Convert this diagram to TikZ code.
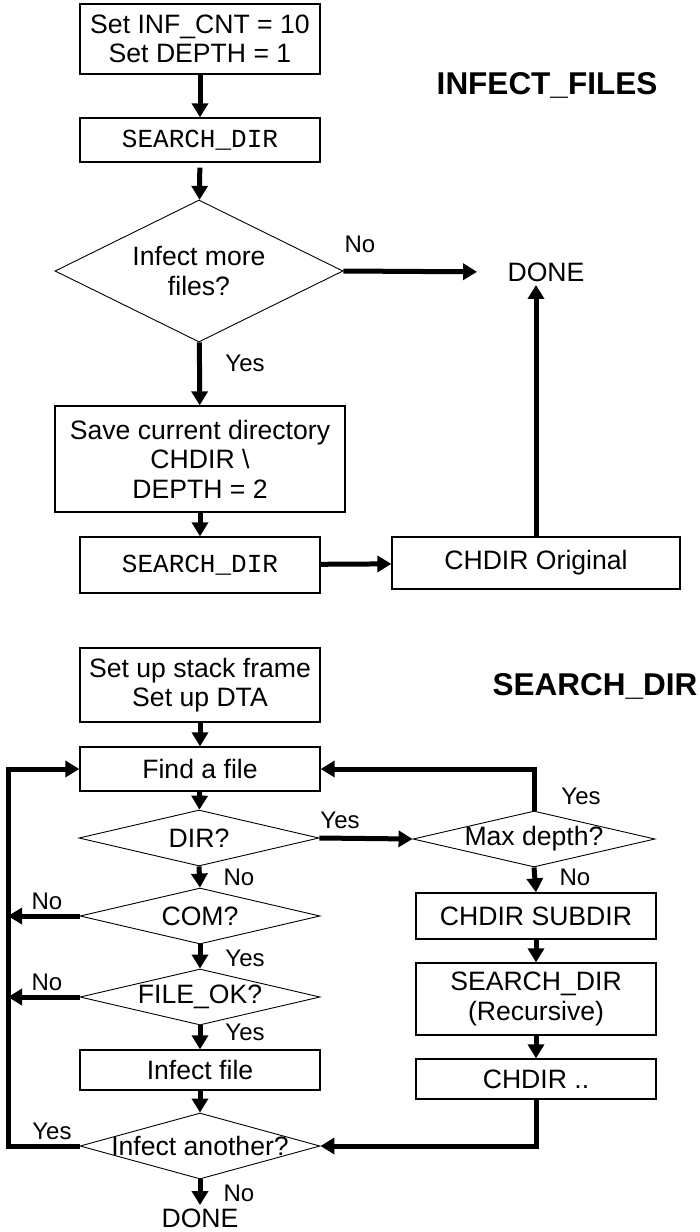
\documentclass[tikz,border=0pt]{standalone}
\usepackage{fontspec}
\setmainfont{Liberation Sans}
\setmonofont{Liberation Mono}
\usepackage{tikz}
\usetikzlibrary{arrows.meta,shapes.geometric,positioning}
\newcommand{\mainsz}{\fontsize{26.6}{29.5}\selectfont}
\newcommand{\lblsz}{\fontsize{24}{26}\selectfont}

\tikzset{
  box/.style={draw, line width=1.3pt, minimum width=240pt, minimum height=44pt,
    inner sep=0pt, align=center, font=\mainsz},
  codebox/.style={box, font=\fontsize{26}{29}\selectfont\ttfamily},
  dec/.style={diamond, draw, line width=0.9pt, inner sep=0pt,
    minimum width=240pt, minimum height=56pt},
  txt/.style={font=\mainsz, align=center},
  lbl/.style={font=\lblsz},
  ttl/.style={font=\fontsize{31.5}{34}\selectfont\bfseries},
  flow/.style={line width=5pt, -{Triangle[length=14pt,width=16pt]}}
}

\begin{document}
\begin{tikzpicture}[x=1pt, y=-1pt]
  \useasboundingbox (0,0) rectangle (700,1232);

  % INFECT_FILES
  \node[ttl] (title1) at (547,85) {INFECT\_FILES};
  \node[box, minimum height=70pt] (init) at (200,39)
    {Set INF\_CNT = 10\\Set DEPTH = 1};
  \node[codebox] (sd1) at (200,140) {SEARCH\_DIR};
  \node[dec, minimum width=288pt, minimum height=142pt,
    label={[txt]center:{Infect more\\files?}}] (more) at (199,271) {};
  \node[txt] (done1) at (546,272) {DONE};
  \node[box, minimum width=290pt, minimum height=106pt] (save) at (200,459)
    {Save current directory\\CHDIR \textbackslash\\DEPTH = 2};
  \node[codebox, minimum height=56pt] (sd2) at (200,565) {SEARCH\_DIR};
  \node[box, minimum width=288pt, minimum height=52pt] (orig) at (536,563)
    {CHDIR Original};

  \draw[flow] (init) -- (sd1);
  \draw[flow, shorten <=5pt] (sd1) -- (more);
  \draw[flow, shorten >=27pt] (more.east) -- (done1.west);
  \node[lbl] (no1) at (360,244) {No};
  \draw[flow] (more) -- (save);
  \node[lbl] (yes1) at (245,363) {Yes};
  \draw[flow] (save) -- (sd2);
  \draw[flow] (sd2) -- (orig);
  \draw[flow] (orig.north) -- (orig.north |- done1.south);

  % SEARCH_DIR
  \node[ttl] (title2) at (595,686) {SEARCH\_DIR};
  \node[box, minimum height=74pt] (setup) at (200,685)
    {Set up stack frame\\Set up DTA};
  \node[box] (find) at (200,769) {Find a file};
  \node[dec, label={[txt]center:DIR?}] (dir) at (199,838) {};
  \node[dec, minimum width=242pt, label={[txt]center:Max depth?}] (maxd)
    at (534,839) {};
  \node[dec, label={[txt]center:COM?}] (com) at (200,916) {};
  \node[dec, label={[txt]center:FILE\_OK?}] (fok) at (200,997) {};
  \node[box, minimum height=40pt] (infect) at (200,1070) {Infect file};
  \node[dec, minimum height=66pt, label={[txt]center:Infect another?}]
    (another) at (200,1146) {};
  \node[txt] (done2) at (200,1218) {DONE};
  \node[box, minimum height=46pt] (subdir) at (536,916) {CHDIR SUBDIR};
  \node[box, minimum height=72pt] (rec) at (536,999)
    {SEARCH\_DIR\\(Recursive)};
  \node[box, minimum height=40pt] (up) at (536,1079) {CHDIR ..};
  \coordinate (lft) at (8,1146);

  \draw[flow] (setup) -- (find);
  \draw[flow] (find) -- (dir);
  \draw[flow] (dir.east) -- (maxd.west);
  \node[lbl] (yes2) at (340,820) {Yes};
  \draw[flow] (maxd.north) |- (find.east);
  \node[lbl] (yes3) at (581,796) {Yes};
  \draw[flow] (maxd.south) -- (subdir.north);
  \node[lbl] (no2) at (575,877) {No};
  \draw[flow] (subdir) -- (rec);
  \draw[flow] (rec) -- (up);
  \draw[flow] (up.south) |- (another.east);
  \draw[flow] (dir.south) -- (com.north);
  \node[lbl] (no3) at (239,877) {No};
  \draw[flow] (com.west) -- (com.west -| lft);
  \node[lbl] (no4) at (47,901) {No};
  \draw[flow] (com.south) -- (fok.north);
  \node[lbl] (yes4) at (245,958) {Yes};
  \draw[flow] (fok.west) -- (fok.west -| lft);
  \node[lbl] (no5) at (47,982) {No};
  \draw[flow] (fok.south) -- (infect.north);
  \node[lbl] (yes5) at (245,1032) {Yes};
  \draw[flow] (infect) -- (another.north);
  \draw[flow] (another.west) -- (lft) |- (find.west);
  \node[lbl] (yes6) at (52,1131) {Yes};
  \draw[flow] (another.south) -- (done2.north);
  \node[lbl] (no6) at (239,1193) {No};
\end{tikzpicture}
\end{document}
